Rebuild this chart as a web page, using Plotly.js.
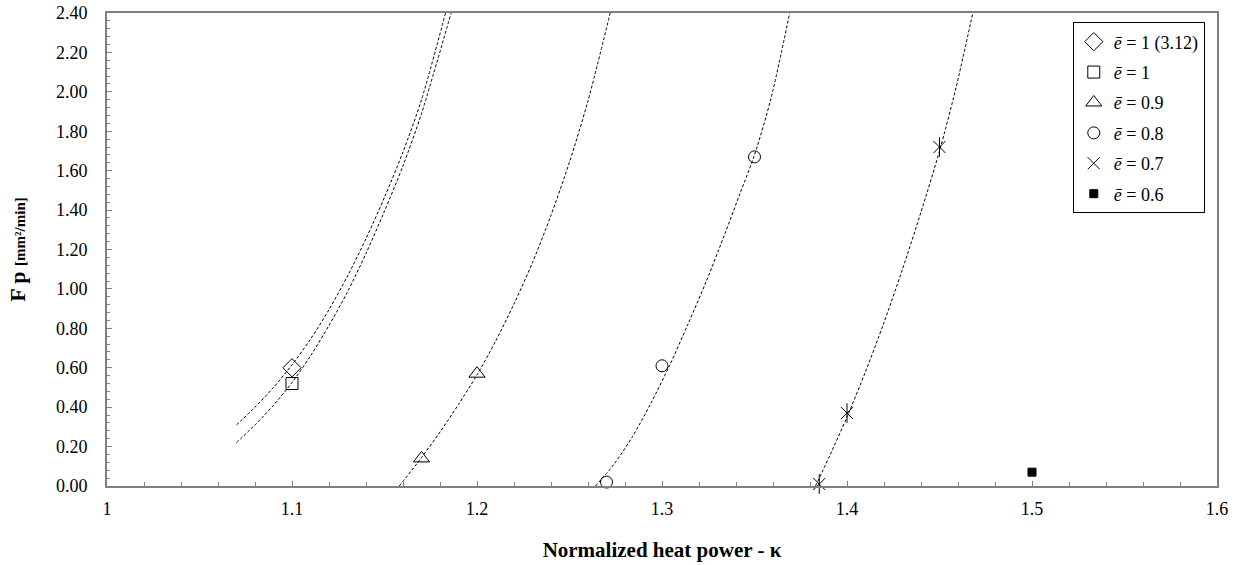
<!DOCTYPE html>
<html>
<head>
<meta charset="utf-8">
<script src="https://cdn.plot.ly/plotly-3.0.1.min.js"></script>
<style>html,body{margin:0;padding:0;background:#fff;}#chart{width:1237px;height:565px;}</style>
</head>
<body>
<div id="chart"></div>
<script>
// Measured points
const seriesNames = ["<i>ē</i> = 1 (3.12)", "<i>ē</i> = 1", "<i>ē</i> = 0.9", "<i>ē</i> = 0.8", "<i>ē</i> = 0.7", "<i>ē</i> = 0.6"];
const xDiamond = [1.10];              const yDiamond = [0.60];
const xSquare = [1.10];               const ySquare = [0.52];
const xTriangle = [1.17, 1.20];       const yTriangle = [0.14, 0.57];
const xCircle = [1.27, 1.30, 1.35];   const yCircle = [0.02, 0.61, 1.67];
const xStar = [1.385, 1.40, 1.45];    const yStar = [0.01, 0.37, 1.72];
const xFilled = [1.50];               const yFilled = [0.07];

// Trend curves
const curveDiamondX = [1.070, 1.080, 1.090, 1.100, 1.110, 1.120, 1.130, 1.140, 1.150, 1.160, 1.170, 1.183];
const curveDiamondY = [0.31, 0.40, 0.50, 0.615, 0.745, 0.895, 1.065, 1.255, 1.465, 1.695, 1.96, 2.40];
const curveSquareX = [1.070, 1.080, 1.090, 1.100, 1.110, 1.120, 1.130, 1.140, 1.150, 1.160, 1.170, 1.186];
const curveSquareY = [0.22, 0.31, 0.41, 0.525, 0.66, 0.815, 0.985, 1.18, 1.395, 1.625, 1.89, 2.40];
const curveTriangleX = [1.158, 1.170, 1.180, 1.190, 1.200, 1.210, 1.220, 1.230, 1.240, 1.250, 1.260, 1.272];
const curveTriangleY = [0.00, 0.144, 0.274, 0.414, 0.564, 0.734, 0.924, 1.134, 1.374, 1.644, 1.954, 2.40];
const curveCircleX = [1.264, 1.274, 1.284, 1.294, 1.304, 1.314, 1.324, 1.334, 1.342, 1.350, 1.359, 1.369];
const curveCircleY = [0.00, 0.11, 0.25, 0.42, 0.61, 0.82, 1.04, 1.28, 1.48, 1.68, 1.97, 2.40];
const curveStarX = [1.383, 1.390, 1.400, 1.410, 1.420, 1.430, 1.440, 1.450, 1.459, 1.468];
const curveStarY = [0.00, 0.14, 0.35, 0.58, 0.83, 1.10, 1.39, 1.70, 2.024, 2.40];

const FONT = "Liberation Serif";

function curve(x, y) {
  return {x: x, y: y, type: 'scatter', mode: 'lines', showlegend: false, hoverinfo: 'skip',
          line: {color: '#000', width: 1, dash: '3px,2px', shape: 'spline', smoothing: 0.8}};
}
function pts(x, y, name, symbol, size, group, show) {
  return {x: x, y: y, type: 'scatter', mode: 'markers', name: name, legendgroup: group,
          showlegend: show !== false, cliponaxis: false,
          marker: {symbol: symbol, size: size, color: '#000', line: {color: '#000', width: 1}}};
}

const data = [
  curve(curveDiamondX, curveDiamondY),
  curve(curveSquareX, curveSquareY),
  curve(curveTriangleX, curveTriangleY),
  curve(curveCircleX, curveCircleY),
  curve(curveStarX, curveStarY),
  pts(xDiamond, yDiamond, seriesNames[0], 'diamond-open', 14, 'g1'),
  pts(xSquare, ySquare, seriesNames[1], 'square-open', 12, 'g2'),
  pts(xTriangle, yTriangle, seriesNames[2], 'triangle-up-open', 14, 'g3'),
  pts(xCircle, yCircle, seriesNames[3], 'circle-open', 12, 'g4'),
  pts(xStar, yStar, seriesNames[4], 'x-thin-open', 12, 'g5'),
  pts(xStar, yStar, seriesNames[4], 'line-ns-open', 14, 'g5', false),
  pts(xFilled, yFilled, seriesNames[5], 'square', 8, 'g6')
];

const layout = {
  width: 1237, height: 565,
  margin: {l: 107, r: 20, t: 13, b: 79},
  paper_bgcolor: '#fff', plot_bgcolor: '#fff',
  font: {family: FONT, color: '#000', size: 18},
  showlegend: true,
  legend: {x: 0.989, xanchor: 'right', y: 0.98, yanchor: 'top',
           bordercolor: '#000', borderwidth: 1, bgcolor: '#fff',
           font: {family: FONT, size: 18, color: '#000'}, tracegroupgap: 4},
  xaxis: {
    range: [1, 1.6], dtick: 0.1, tick0: 1,
    showgrid: false, zeroline: false,
    showline: true, linecolor: '#808080', linewidth: 2, mirror: true,
    ticks: 'inside', ticklen: 5, tickcolor: '#808080', tickwidth: 1,
    minor: {dtick: 0.02, ticks: 'inside', ticklen: 4, tickcolor: '#808080', showgrid: false},
    tickfont: {family: FONT, size: 18, color: '#000'},
    ticklabelstandoff: 5,
    title: {text: '<b>Normalized heat power - κ</b>', font: {family: FONT, size: 21, color: '#000'}, standoff: 25}
  },
  yaxis: {
    range: [0, 2.4], dtick: 0.2, tick0: 0, tickformat: '.2f',
    showgrid: false, zeroline: false,
    showline: true, linecolor: '#808080', linewidth: 2, mirror: true,
    ticks: 'inside', ticklen: 5, tickcolor: '#808080', tickwidth: 1,
    minor: {dtick: 0.04, ticks: 'inside', ticklen: 3, tickcolor: '#808080', showgrid: false},
    tickfont: {family: FONT, size: 18, color: '#000'},
    ticklabelstandoff: 14,
    title: {text: "<b>F p <span style='font-size:15px'>[mm²/min]</span></b>", font: {family: FONT, size: 22, color: '#000'}, standoff: 24}
  }
};

Plotly.newPlot('chart', data, layout, {displayModeBar: false, staticPlot: true});
</script>
</body>
</html>
